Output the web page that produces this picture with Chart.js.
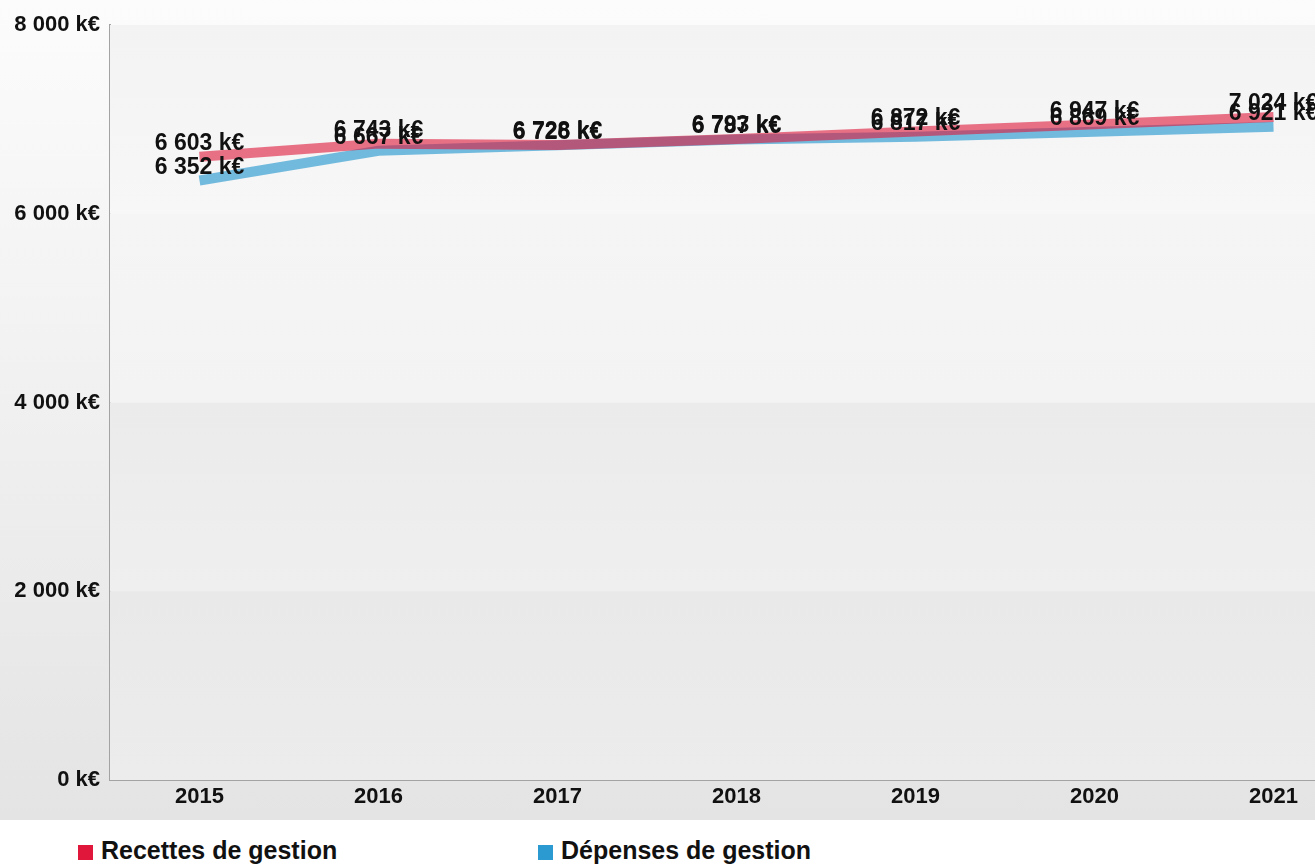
<!DOCTYPE html>
<html lang="fr">
<head>
<meta charset="utf-8">
<script src="https://cdn.jsdelivr.net/npm/chart.js@4/dist/chart.umd.min.js"></script>
<style>
    html, body {
        margin: 0;
        padding: 0;
        width: 1315px;
        height: 864px;
        overflow: hidden;
        background: #ffffff;
        font-family: "Liberation Sans", Arial, sans-serif;
    }
    #wrap {
        position: absolute;
        left: 0;
        top: 0;
        width: 1363px;
        height: 820px;
        background: linear-gradient(#fcfcfc, #e4e4e4);
    }
    #legend {
        position: absolute;
        top: 828px;
        left: 0;
        width: 1315px;
        height: 36px;
    }
    .leg-item {
        position: absolute;
        top: 0;
        font-size: 25px;
        font-weight: bold;
        color: #111;
        white-space: nowrap;
        line-height: 44px;
    }
    .leg-box {
        display: inline-block;
        width: 15px;
        height: 15px;
        margin-right: 8px;
        vertical-align: -1px;
    }
</style>
</head>
<body>
<div id="wrap"><canvas id="myChart"></canvas></div>
<div id="legend"></div>

<script>
    const years = ["2015", "2016", "2017", "2018", "2019", "2020", "2021"];
    const recettes = [6603, 6743, 6728, 6793, 6872, 6947, 7024];
    const depenses = [6352, 6667, 6726, 6787, 6817, 6869, 6921];
    const seriesNames = ["Recettes de gestion", "Dépenses de gestion"];
    const seriesColors = ["#e0173a", "#2b9ad0"];
    const lineColors = ["rgba(224, 23, 58, 0.6)", "rgba(43, 154, 208, 0.65)"];
    const yTicks = [0, 2000, 4000, 6000, 8000];

    function keur(v) {
        return String(v).replace(/\B(?=(\d{3})+(?!\d))/g, " ") + " k€";
    }

    // soft grey bands between the horizontal ticks
    const bands = {
        id: "bands",
        beforeDatasetsDraw(chart) {
            const ctx = chart.ctx;
            const area = chart.chartArea;
            const y = chart.scales.y;
            const shades = [
                ["#e9e9e9", "#ececec"],
                ["#ebebeb", "#efefef"],
                ["#f5f5f5", "#f3f3f3"],
                ["#f3f3f3", "#f7f7f7"]
            ];
            ctx.save();
            for (let i = 0; i < yTicks.length - 1; i++) {
                const top = y.getPixelForValue(yTicks[i + 1]);
                const bottom = y.getPixelForValue(yTicks[i]);
                const g = ctx.createLinearGradient(0, top, 0, bottom);
                g.addColorStop(0, shades[i][0]);
                g.addColorStop(1, shades[i][1]);
                ctx.fillStyle = g;
                ctx.fillRect(area.left, top, area.right - area.left, bottom - top);
            }
            ctx.restore();
        }
    };

    // value labels above every point
    const valueLabels = {
        id: "valueLabels",
        afterDatasetsDraw(chart) {
            const ctx = chart.ctx;
            ctx.save();
            ctx.font = "bold 23px 'Liberation Sans', Arial, sans-serif";
            ctx.fillStyle = "#111";
            ctx.textAlign = "center";
            ctx.textBaseline = "middle";
            chart.data.datasets.forEach((ds, i) => {
                const meta = chart.getDatasetMeta(i);
                meta.data.forEach((pt, j) => {
                    ctx.fillText(keur(ds.data[j]), pt.x, pt.y - 13);
                });
            });
            ctx.restore();
        }
    };

    const chart = new Chart("myChart", {
        type: "line",
        data: {
            labels: years,
            datasets: [{
                label: seriesNames[0],
                data: recettes,
                borderColor: lineColors[0],
                backgroundColor: seriesColors[0],
                borderWidth: 10,
                pointRadius: 0,
                tension: 0
            }, {
                label: seriesNames[1],
                data: depenses,
                borderColor: lineColors[1],
                backgroundColor: seriesColors[1],
                borderWidth: 10,
                pointRadius: 0,
                tension: 0
            }]
        },
        options: {
            responsive: true,
            maintainAspectRatio: false,
            animation: false,
            layout: {
                padding: { top: 25, right: 0, bottom: 0, left: 0 }
            },
            plugins: {
                legend: { display: false },
                tooltip: { enabled: false }
            },
            scales: {
                x: {
                    offset: true,
                    grid: { display: false },
                    border: { display: true, color: "#a3a3a3", width: 2 },
                    ticks: {
                        color: "#111",
                        padding: -4,
                        font: { family: "'Liberation Sans', Arial, sans-serif", size: 22, weight: "bold" }
                    },
                    afterFit(scale) {
                        scale.height = 40;
                    }
                },
                y: {
                    min: 0,
                    max: 8000,
                    grid: { display: false },
                    border: { display: true, color: "#a3a3a3", width: 2 },
                    afterBuildTicks(scale) {
                        scale.ticks = yTicks.map(v => ({ value: v }));
                    },
                    ticks: {
                        color: "#111",
                        padding: 2,
                        font: { family: "'Liberation Sans', Arial, sans-serif", size: 22, weight: "bold" },
                        callback: v => keur(v)
                    },
                    afterFit(scale) {
                        scale.width = 110;
                    }
                }
            }
        },
        plugins: [bands, valueLabels]
    });

    // legend laid out below the chart
    const legendBox = document.getElementById("legend");
    const legendLeft = [78, 538];
    chart.data.datasets.forEach((ds, i) => {
        const item = document.createElement("div");
        item.className = "leg-item";
        item.style.left = legendLeft[i] + "px";
        const box = document.createElement("span");
        box.className = "leg-box";
        box.style.background = seriesColors[i];
        item.appendChild(box);
        item.appendChild(document.createTextNode(ds.label));
        legendBox.appendChild(item);
    });
</script>
</body>
</html>
